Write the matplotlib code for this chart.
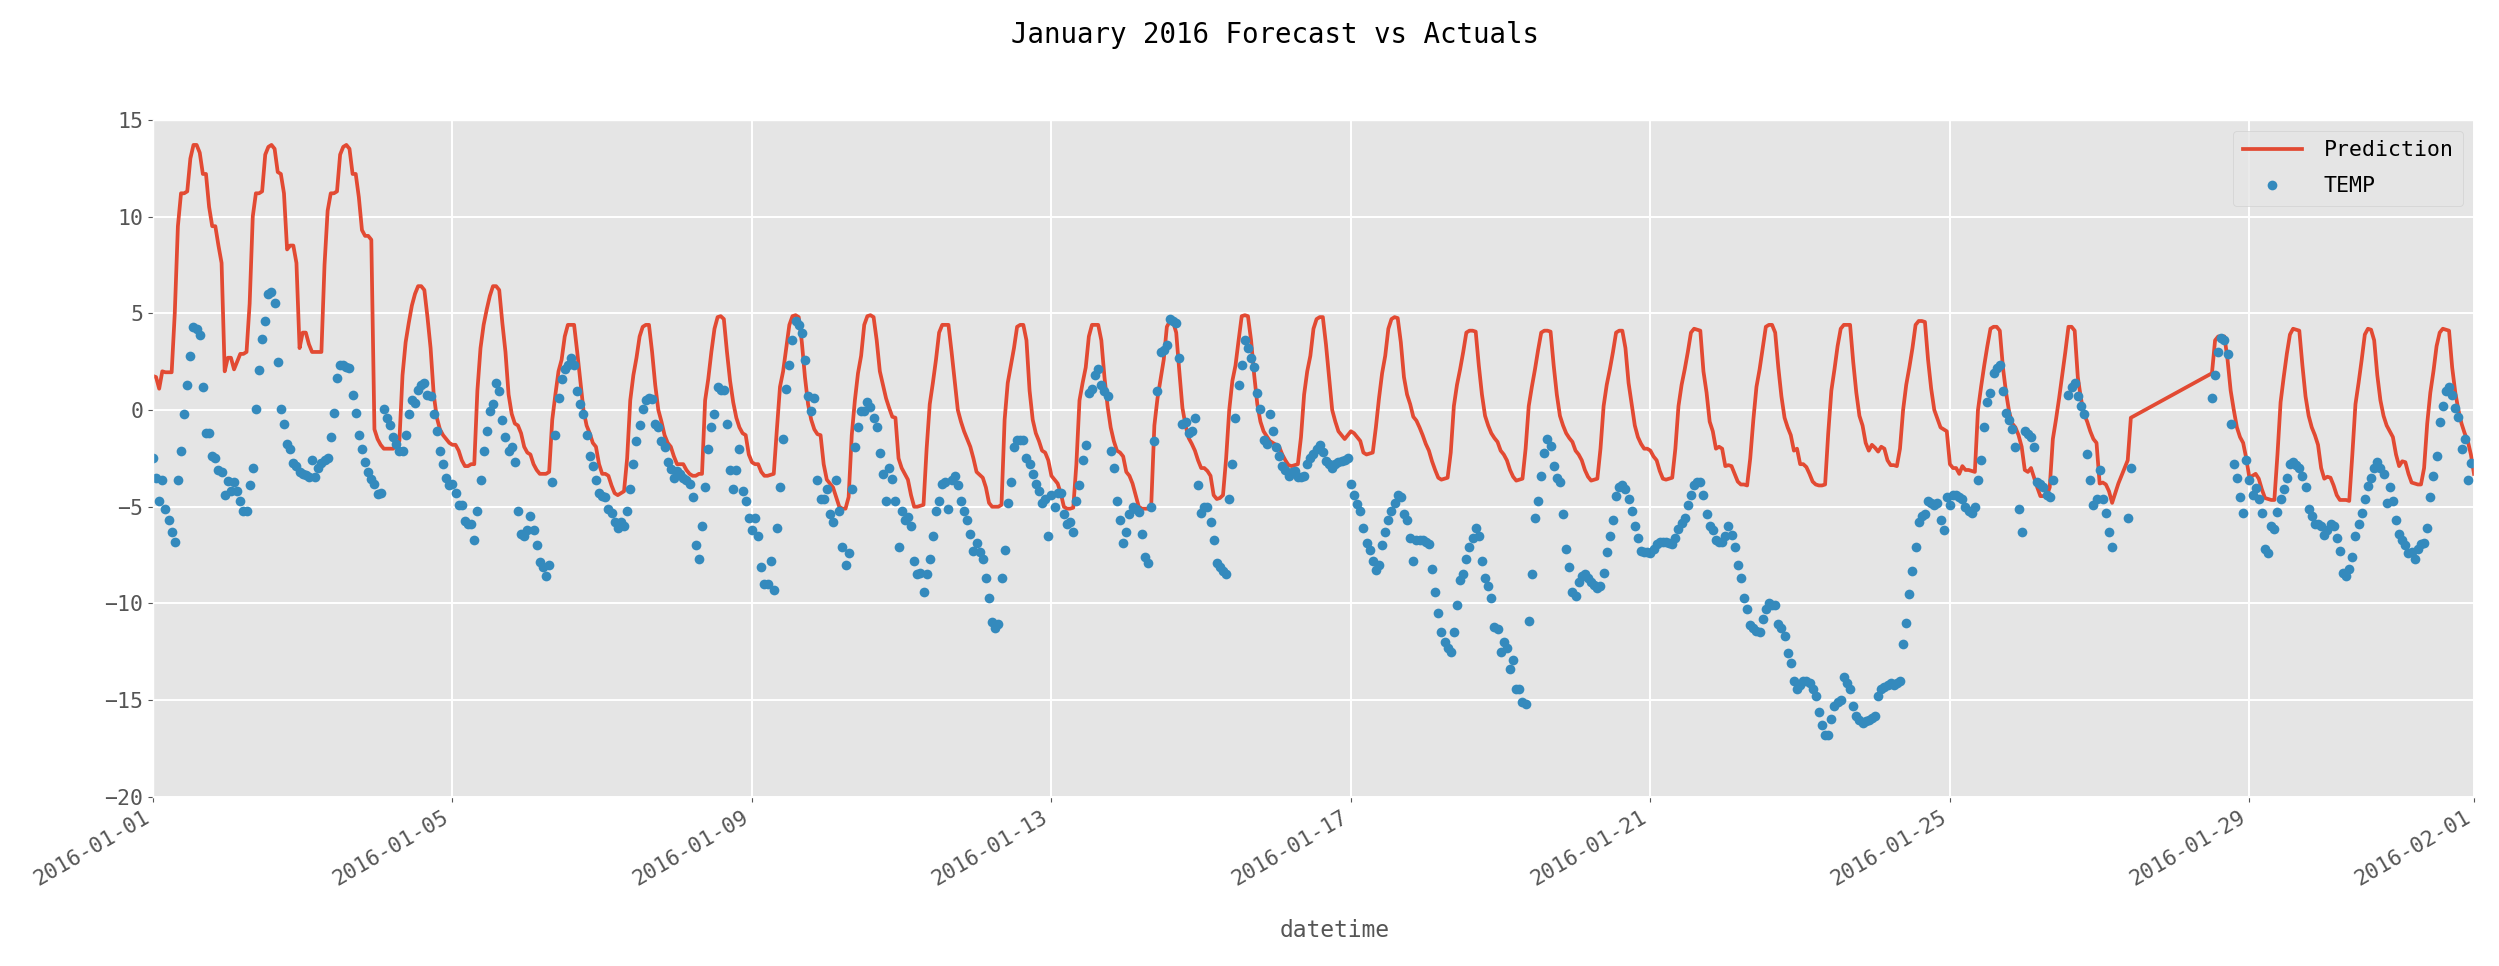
import numpy as np
import pandas as pd
import matplotlib
matplotlib.use('Agg')
import matplotlib.pyplot as plt
import matplotlib.dates as mdates

plt.style.use('ggplot')
plt.rcParams['font.family'] = ['DejaVu Sans Mono']
plt.rcParams['font.size'] = 15.5

N = np.nan
start = '2016-01-01'

# hourly prediction, one line per day (Jan 1 .. Jan 31, then Feb 1 00:00)
prediction = [
    1.76, 1.7, 1.1, 2.0, 1.95, 1.95, 1.95, 5.0, 9.5, 11.2, 11.2, 11.3, 13.0, 13.7, 13.7, 13.3, 12.2, 12.2, 10.5, 9.5, 9.5, 8.5, 7.6, 2.0,
    2.7, 2.7, 2.1, 2.5, 2.9, 2.9, 3.0, 5.5, 10.0, 11.2, 11.2, 11.3, 13.2, 13.6, 13.7, 13.5, 12.3, 12.2, 11.2, 8.3, 8.5, 8.5, 7.6, 3.2,
    4.0, 4.0, 3.4, 3.0, 3.0, 3.0, 3.0, 7.5, 10.3, 11.2, 11.2, 11.3, 13.2, 13.6, 13.7, 13.5, 12.2, 12.2, 11.0, 9.3, 9.0, 9.0, 8.8, -1.0,
    -1.5, -1.8, -2.0, -2.0, -2.0, -2.0, -1.8, -1.6, 1.8, 3.5, 4.5, 5.4, 6.0, 6.4, 6.4, 6.2, 4.8, 3.2, 0.8, -0.4, -1.0, -1.3, -1.5, -1.7,
    -1.8, -1.8, -2.1, -2.6, -2.9, -2.9, -2.8, -2.8, 1.0, 3.2, 4.4, 5.2, 5.9, 6.4, 6.4, 6.2, 4.5, 3.0, 0.8, -0.2, -0.7, -0.8, -1.2, -1.9,
    -2.2, -2.3, -2.8, -3.1, -3.3, -3.3, -3.3, -3.2, -0.5, 0.8, 2.0, 2.6, 3.8, 4.4, 4.4, 4.4, 3.0, 1.5, 0.0, -0.8, -1.2, -1.7, -1.9, -2.8,
    -3.3, -3.3, -3.4, -3.9, -4.3, -4.4, -4.3, -4.2, -2.5, 0.5, 1.8, 2.7, 3.8, 4.3, 4.4, 4.4, 3.0, 1.3, 0.0, -0.6, -1.3, -1.7, -1.9, -2.4,
    -2.8, -2.8, -2.8, -3.1, -3.3, -3.4, -3.4, -3.3, -3.3, 0.5, 1.6, 3.0, 4.2, 4.8, 4.85, 4.7, 3.0, 1.5, 0.4, -0.4, -0.9, -1.2, -1.3, -2.3,
    -2.7, -2.8, -2.8, -3.2, -3.4, -3.4, -3.35, -3.3, -1.0, 1.2, 2.0, 3.2, 4.4, 4.85, 4.9, 4.8, 3.5, 1.7, 0.3, -0.5, -1.0, -1.25, -1.3, -2.8,
    -3.6, -3.8, -4.0, -4.5, -5.0, -5.1, -5.1, -4.5, -1.3, 0.5, 1.9, 2.8, 4.4, 4.85, 4.9, 4.8, 3.6, 2.0, 1.3, 0.6, 0.1, -0.35, -0.4, -2.5,
    -3.0, -3.3, -3.6, -4.4, -5.0, -5.0, -4.95, -4.9, -2.0, 0.3, 1.4, 2.6, 4.0, 4.4, 4.4, 4.4, 3.0, 1.5, 0.0, -0.6, -1.1, -1.5, -1.9, -2.5,
    -3.2, -3.35, -3.5, -4.0, -4.8, -5.0, -5.0, -5.0, -4.9, -0.5, 1.4, 2.3, 3.2, 4.3, 4.4, 4.4, 3.6, 1.0, -0.5, -1.2, -1.6, -2.1, -2.2, -2.6,
    -3.4, -3.6, -3.8, -4.3, -5.0, -5.1, -5.1, -5.05, -2.8, 0.5, 1.4, 2.2, 3.8, 4.4, 4.4, 4.4, 3.6, 1.7, 0.2, -0.9, -1.6, -2.1, -2.2, -2.4,
    -3.2, -3.4, -3.8, -4.4, -5.0, -5.1, -5.1, -5.1, -4.9, -0.8, 0.6, 1.6, 2.6, 4.3, 4.6, 4.55, 4.0, 2.0, 0.1, -0.8, -1.45, -1.75, -2.1, -2.6,
    -3.0, -3.0, -3.15, -3.4, -4.4, -4.6, -4.55, -4.4, -2.5, 0.0, 1.5, 2.3, 3.6, 4.85, 4.9, 4.85, 3.6, 1.8, 0.3, -0.6, -1.1, -1.35, -1.6, -1.7,
    -1.8, -1.9, -2.3, -2.6, -2.85, -2.9, -2.85, -2.8, -1.4, 0.8, 2.0, 2.8, 4.2, 4.7, 4.8, 4.8, 3.4, 1.7, 0.0, -0.6, -1.1, -1.3, -1.5, -1.3,
    -1.1, -1.2, -1.4, -1.6, -2.2, -2.3, -2.25, -2.2, -0.9, 0.6, 1.9, 2.8, 4.2, 4.7, 4.8, 4.75, 3.5, 1.7, 0.8, 0.3, -0.35, -0.55, -0.9, -1.3,
    -1.75, -2.1, -2.65, -3.1, -3.5, -3.6, -3.55, -3.5, -2.2, 0.2, 1.3, 2.1, 3.0, 4.0, 4.1, 4.1, 4.05, 2.3, 0.8, -0.3, -0.8, -1.2, -1.45, -1.65,
    -2.1, -2.3, -2.6, -3.1, -3.45, -3.65, -3.6, -3.55, -2.0, 0.2, 1.2, 2.1, 3.1, 4.0, 4.1, 4.1, 4.05, 2.3, 0.8, -0.3, -0.8, -1.2, -1.45, -1.65,
    -2.1, -2.3, -2.6, -3.1, -3.45, -3.65, -3.6, -3.55, -2.0, 0.2, 1.3, 2.1, 3.0, 4.0, 4.1, 4.1, 3.2, 1.4, 0.3, -0.8, -1.4, -1.75, -2.0, -2.0,
    -2.1, -2.4, -2.6, -3.15, -3.55, -3.6, -3.55, -3.5, -2.0, 0.2, 1.3, 2.1, 3.0, 4.0, 4.2, 4.15, 4.1, 2.0, 0.9, -0.6, -1.1, -2.0, -1.9, -2.0,
    -2.9, -2.85, -2.9, -3.3, -3.7, -3.85, -3.85, -3.9, -2.5, -0.5, 1.2, 2.1, 3.2, 4.3, 4.4, 4.4, 4.0, 2.2, 0.7, -0.4, -0.9, -1.3, -2.1, -2.0,
    -2.8, -2.8, -2.95, -3.3, -3.7, -3.85, -3.9, -3.9, -3.85, -1.2, 1.0, 2.1, 3.3, 4.2, 4.4, 4.4, 4.4, 2.5, 0.9, -0.3, -0.8, -1.7, -2.1, -1.8,
    -1.95, -2.15, -1.9, -2.0, -2.6, -2.85, -2.85, -2.9, -2.0, 0.0, 1.3, 2.2, 3.2, 4.4, 4.6, 4.6, 4.55, 2.6, 1.1, 0.0, -0.45, -0.9, -1.0, -1.1,
    -2.8, -3.0, -3.0, -3.3, -2.9, -3.1, -3.1, -3.15, -3.2, 0.0, 1.2, 2.3, 3.3, 4.2, 4.3, 4.3, 4.1, 2.2, 0.9, -0.1, -0.7, -0.9, -1.3, -1.9,
    -3.1, -3.2, -3.0, -3.5, -4.0, -4.45, -4.45, -4.45, -4.0, -1.5, -0.5, 0.6, 1.8, 3.0, 4.3, 4.3, 4.1, 1.7, 0.6, -0.2, -0.6, -1.1, -1.5, -1.7,
    -3.8, -3.75, -3.85, -4.2, -4.8, -4.3, -3.8, -3.4, -3.0, -2.6, -0.4, N, N, N, N, N, N, N, N, N, N, N, N, N,
    N, N, N, N, N, N, N, N, N, N, N, N, 1.9, 3.6, 3.8, 3.8, 3.8, 2.6, 1.0, 0.0, -0.9, -1.4, -1.7, -2.5,
    -3.5, -3.4, -3.3, -3.55, -4.1, -4.55, -4.6, -4.65, -4.65, -2.3, 0.4, 1.7, 2.9, 3.9, 4.2, 4.15, 4.1, 2.3, 0.7, -0.3, -0.9, -1.3, -1.8, -3.0,
    -3.55, -3.45, -3.5, -3.9, -4.4, -4.65, -4.65, -4.65, -4.7, -2.3, 0.3, 1.4, 2.6, 3.9, 4.2, 4.15, 3.6, 1.8, 0.5, -0.3, -0.8, -1.1, -1.4, -2.3,
    -2.9, -2.65, -2.7, -3.3, -3.75, -3.8, -3.85, -3.85, -3.0, -0.7, 0.9, 2.0, 3.3, 4.0, 4.2, 4.15, 4.1, 2.2, 0.9, 0.0, -0.7, -1.2, -1.6, -2.3,
    -3.3,
]

# hourly observed temperature, same layout
temp = [
    -2.5, -3.5, -4.7, -3.6, -5.1, -5.7, -6.3, -6.8, -3.6, -2.1, -0.2, 1.3, 2.8, 4.3, 4.2, 3.9, 1.2, -1.2, -1.2, -2.4, -2.5, -3.1, -3.2, -4.4,
    -3.65, -4.2, -3.7, -4.2, -4.7, -5.2, -5.2, -3.9, -3.0, 0.05, 2.05, 3.65, 4.6, 6.0, 6.1, 5.55, 2.5, 0.05, -0.7, -1.75, -2.0, -2.75, -2.9, -3.2,
    -3.3, -3.35, -3.45, -2.6, -3.45, -3.0, -2.75, -2.6, -2.5, -1.4, -0.15, 1.65, 2.35, 2.3, 2.2, 2.15, 0.8, -0.15, -1.3, -2.0, -2.7, -3.2, -3.55, -3.8,
    -4.35, -4.3, 0.05, -0.4, -0.8, -1.4, -1.75, -2.1, -2.1, -1.3, -0.2, 0.5, 0.35, 1.05, 1.3, 1.4, 0.8, 0.7, -0.2, -1.1, -2.1, -2.8, -3.5, -3.9,
    -3.8, -4.3, -4.9, -4.9, -5.75, -5.9, -5.9, -6.7, -5.2, -3.6, -2.1, -1.1, -0.05, 0.3, 1.4, 1.0, -0.5, -1.4, -2.1, -1.9, -2.7, -5.2, -6.4, -6.5,
    -6.2, -5.5, -6.2, -7.0, -7.85, -8.1, -8.6, -8.0, -3.7, -1.3, 0.6, 1.6, 2.1, 2.3, 2.7, 2.3, 1.0, 0.3, -0.2, -1.3, -2.4, -2.9, -3.6, -4.3,
    -4.45, -4.5, -5.1, -5.3, -5.8, -6.1, -5.8, -6.0, -5.2, -4.1, -2.8, -1.6, -0.8, 0.05, 0.5, 0.6, 0.55, -0.7, -0.9, -1.6, -1.9, -2.7, -3.05, -3.5,
    -3.15, -3.3, -3.5, -3.6, -3.85, -4.5, -7.0, -7.7, -6.0, -4.0, -2.0, -0.9, -0.2, 1.2, 1.05, 1.05, -0.7, -3.1, -4.1, -3.1, -2.0, -4.2, -4.7, -5.6,
    -6.2, -5.6, -6.5, -8.1, -9.0, -9.0, -7.8, -9.3, -6.1, -4.0, -1.5, 1.1, 2.3, 3.6, 4.6, 4.4, 4.0, 2.6, 0.7, -0.05, 0.6, -3.6, -4.6, -4.6,
    -4.1, -5.4, -5.8, -3.6, -5.2, -7.1, -8.0, -7.4, -4.1, -1.9, -0.9, -0.05, -0.05, 0.4, 0.15, -0.4, -0.9, -2.2, -3.3, -4.7, -3.0, -3.55, -4.7, -7.1,
    -5.2, -5.7, -5.55, -6.0, -7.8, -8.5, -8.4, -9.4, -8.5, -7.7, -6.5, -5.2, -4.7, -3.85, -3.7, -5.1, -3.6, -3.4, -3.9, -4.7, -5.2, -5.7, -6.4, -7.3,
    -6.9, -7.35, -7.7, -8.7, -9.7, -10.95, -11.25, -11.05, -8.7, -7.25, -4.8, -3.7, -1.9, -1.55, -1.55, -1.55, -2.5, -2.8, -3.3, -3.8, -4.2, -4.8, -4.6, -6.5,
    -4.4, -5.0, -4.3, -4.3, -5.4, -5.9, -5.8, -6.3, -4.7, -3.9, -2.6, -1.8, 0.9, 1.1, 1.8, 2.1, 1.3, 1.0, 0.7, -2.1, -3.0, -4.7, -5.7, -6.9,
    -6.3, -5.4, -5.0, -5.1, -5.25, -6.4, -7.6, -7.9, -5.0, -1.6, 1.0, 3.0, 3.1, 3.35, 4.7, 4.6, 4.5, 2.7, -0.7, -0.6, -1.2, -1.1, -0.4, -3.9,
    -5.3, -5.0, -5.0, -5.8, -6.7, -7.9, -8.1, -8.3, -8.5, -4.6, -2.8, -0.4, 1.3, 2.3, 3.6, 3.2, 2.7, 2.2, 0.9, 0.05, -1.55, -1.75, -0.2, -1.1,
    -1.9, -2.4, -2.9, -3.1, -3.4, -3.2, -3.15, -3.45, -3.45, -3.4, -2.8, -2.5, -2.3, -2.0, -1.8, -2.15, -2.65, -2.8, -3.0, -2.8, -2.7, -2.65, -2.6, -2.5,
    -3.8, -4.4, -4.85, -5.2, -6.1, -6.9, -7.25, -7.8, -8.25, -8.0, -7.0, -6.3, -5.7, -5.2, -4.8, -4.4, -4.5, -5.4, -5.7, -6.6, -7.8, -6.7, -6.7, -6.7,
    -6.8, -6.95, -8.2, -9.4, -10.5, -11.5, -12.0, -12.3, -12.5, -11.5, -10.1, -8.8, -8.5, -7.7, -7.1, -6.6, -6.1, -6.5, -7.8, -8.7, -9.1, -9.7, -11.2, -11.3,
    -12.5, -12.0, -12.3, -13.4, -12.9, -14.4, -14.4, -15.1, -15.2, -10.9, -8.5, -5.6, -4.7, -3.4, -2.2, -1.5, -1.85, -2.9, -3.5, -3.7, -5.4, -7.2, -8.1, -9.4,
    -9.6, -8.9, -8.6, -8.5, -8.7, -8.9, -9.05, -9.2, -9.1, -8.4, -7.35, -6.5, -5.7, -4.45, -4.0, -3.9, -4.1, -4.6, -5.2, -6.0, -6.6, -7.3, -7.35, -7.35,
    -7.4, -7.2, -6.95, -6.8, -6.8, -6.8, -6.9, -6.95, -6.6, -6.15, -5.85, -5.6, -4.9, -4.4, -3.9, -3.7, -3.7, -4.4, -5.35, -6.0, -6.2, -6.7, -6.8, -6.8,
    -6.5, -6.0, -6.45, -7.1, -8.0, -8.7, -9.7, -10.3, -11.1, -11.25, -11.4, -11.5, -10.8, -10.3, -10.0, -10.1, -10.1, -11.05, -11.25, -11.7, -12.55, -13.1, -14.0, -14.4,
    -14.2, -14.0, -14.0, -14.1, -14.4, -14.8, -15.6, -16.3, -16.8, -16.8, -15.95, -15.3, -15.1, -15.0, -13.8, -14.1, -14.4, -15.3, -15.8, -16.0, -16.2, -16.05, -16.0, -15.9,
    -15.8, -14.8, -14.4, -14.3, -14.2, -14.1, -14.2, -14.1, -14.0, -12.1, -11.0, -9.5, -8.3, -7.1, -5.8, -5.5, -5.4, -4.7, -4.8, -4.9, -4.8, -5.7, -6.2, -4.5,
    -4.9, -4.4, -4.4, -4.5, -4.6, -5.0, -5.2, -5.3, -5.0, -3.6, -2.6, -0.9, 0.4, 0.9, 1.9, 2.15, 2.3, 1.0, -0.15, -0.5, -1.0, -1.9, -5.1, -6.3,
    -1.1, -1.25, -1.4, -1.9, -3.7, -3.85, -4.0, -4.4, -4.5, -3.6, N, N, N, N, 0.8, 1.2, 1.4, 0.7, 0.2, -0.2, -2.3, -3.6, -4.9, -4.6,
    -3.1, -4.6, -5.3, -6.3, -7.1, N, N, N, N, -5.6, -3.0, N, N, N, N, N, N, N, N, N, N, N, N, N,
    N, N, N, N, N, N, N, N, N, N, N, N, 0.6, 1.8, 3.0, 3.7, 3.6, 2.9, -0.7, -2.8, -3.5, -4.5, -5.3, -2.6,
    -3.6, -4.4, -4.05, -4.6, -5.3, -7.2, -7.4, -6.0, -6.15, -5.25, -4.6, -4.1, -3.5, -2.8, -2.7, -2.85, -3.0, -3.4, -4.0, -5.1, -5.5, -5.9, -5.9, -6.0,
    -6.45, -6.2, -5.9, -6.0, -6.6, -7.3, -8.4, -8.6, -8.2, -7.6, -6.5, -5.9, -5.3, -4.6, -3.95, -3.5, -3.0, -2.7, -3.0, -3.3, -4.8, -4.0, -4.7, -5.7,
    -6.4, -6.7, -7.0, -7.4, -7.35, -7.7, -7.2, -6.95, -6.9, -6.1, -4.5, -3.4, -2.4, -0.6, 0.2, 1.0, 1.2, 0.8, 0.1, -0.35, -2.0, -1.5, -3.6, -2.75,
    N,
]

idx = pd.date_range(start, periods=len(prediction), freq='h')
df = pd.DataFrame({'Prediction': prediction, 'TEMP': temp}, index=idx)
df = df.dropna(how='all')

fig = plt.figure(figsize=(24.99, 9.66), dpi=100)
ax = fig.add_subplot(111)
fig.subplots_adjust(left=0.0612, right=0.990, top=0.876, bottom=0.175)

pred = df['Prediction'].dropna()
obs = df['TEMP'].dropna()
ax.plot(pred.index, pred.values, color='#E24A33', lw=2.7, label='Prediction')
ax.plot(obs.index, obs.values, 'o', color='#348ABD', ms=7.0, mew=0, label='TEMP')

ax.set_xlim(df.index[0], df.index[-1])
ax.set_ylim(-20, 15)
ax.set_yticks(np.arange(-20, 16, 5))
ax.xaxis.set_major_locator(mdates.DayLocator(bymonthday=range(1, 32, 4)))
ax.xaxis.set_major_formatter(mdates.DateFormatter('%Y-%m-%d'))
plt.setp(ax.get_xticklabels(), rotation=30, ha='right')
ax.grid(True, color='white', lw=1.4)
ax.set_xlabel('datetime', fontsize=16.5)
ax.xaxis.set_label_coords(0.509, -0.18)

ax.legend(loc='upper right', handlelength=2.75, handletextpad=1.0,
          labelspacing=0.75, borderpad=0.45)
fig.suptitle('January 2016 Forecast vs Actuals', x=0.5103, y=0.978, fontsize=19.8)

fig.savefig('out.png', dpi=100)
